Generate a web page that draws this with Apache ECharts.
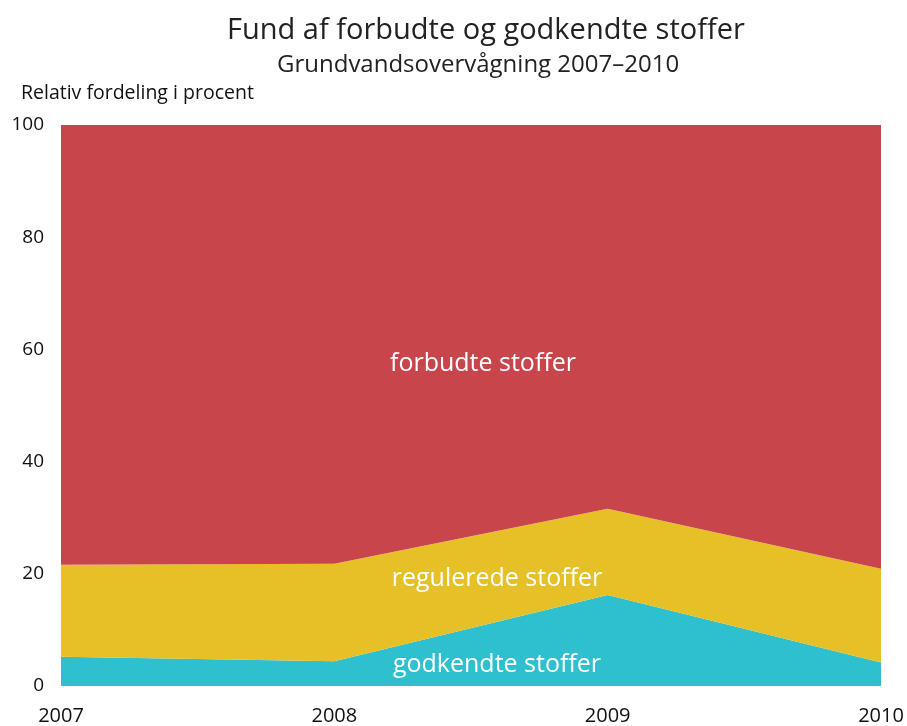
<!DOCTYPE html>
<html>
<head>
<meta charset="utf-8">
<script src="https://cdn.jsdelivr.net/npm/echarts@6/dist/echarts.min.js"></script>
<style>
  html, body { margin: 0; padding: 0; background: #ffffff; }
  #chart { width: 907px; height: 726px; }
</style>
</head>
<body>
<div id="chart"></div>
<script>
// Relative distribution (percent) of findings in groundwater monitoring
const years = ['2007', '2008', '2009', '2010'];
const godkendte = [5.2, 4.4, 16.2, 4.2];
const regulerede = [16.4, 17.4, 15.4, 16.7];
const forbudte = [78.4, 78.2, 68.4, 79.1];
const yTicks = [0, 20, 40, 60, 80, 100];

const FONT = '"Open Sans", "Noto Sans", sans-serif';
const chart = echarts.init(document.getElementById('chart'));

function band(name, data, color) {
  return {
    name: name,
    type: 'line',
    stack: 'total',
    data: data,
    symbol: 'none',
    lineStyle: { width: 0 },
    areaStyle: { color: color, opacity: 1 },
    itemStyle: { color: color },
    emphasis: { disabled: true },
    silent: true
  };
}

function bandLabel(text, x, y) {
  return {
    type: 'text', x: x, y: y, z: 100, silent: true,
    style: { text: text, fill: '#ffffff', font: '25px ' + FONT, align: 'center', verticalAlign: 'middle' }
  };
}

chart.setOption({
  animation: false,
  backgroundColor: '#ffffff',
  title: [
    {
      text: 'Fund af forbudte og godkendte stoffer',
      left: 222, top: 11,
      textStyle: { fontFamily: FONT, fontSize: 29, fontWeight: 'normal', color: '#222' }
    },
    {
      text: 'Grundvandsovervågning 2007–2010',
      left: 272, top: 48,
      textStyle: { fontFamily: FONT, fontSize: 24, fontWeight: 'normal', color: '#222' }
    }
  ],
  grid: { left: 61, right: 26, top: 125, bottom: 38, containLabel: false },
  xAxis: {
    type: 'category',
    data: years,
    boundaryGap: false,
    axisLine: { show: false },
    axisTick: { show: false },
    splitLine: { show: false },
    axisLabel: { fontFamily: FONT, fontSize: 20, color: '#111', margin: 20, showMinLabel: true, showMaxLabel: true }
  },
  yAxis: {
    type: 'value',
    min: yTicks[0],
    max: yTicks[yTicks.length - 1],
    interval: yTicks[1] - yTicks[0],
    name: 'Relativ fordeling i procent',
    nameLocation: 'end',
    nameGap: 22,
    nameTextStyle: { fontFamily: FONT, fontSize: 19.5, color: '#111', align: 'left', padding: [0, 0, 0, -40] },
    axisLine: { show: false },
    axisTick: { show: false },
    splitLine: { show: false },
    axisLabel: { fontFamily: FONT, fontSize: 19, color: '#111', margin: 17 }
  },
  series: [
    band('godkendte stoffer', godkendte, '#2EC0CF'),
    band('regulerede stoffer', regulerede, '#E6C027'),
    band('forbudte stoffer', forbudte, '#C8464B')
  ],
  graphic: [
    bandLabel('forbudte stoffer', 483, 364),
    bandLabel('regulerede stoffer', 497, 579),
    bandLabel('godkendte stoffer', 497, 665)
  ]
});
</script>
</body>
</html>
